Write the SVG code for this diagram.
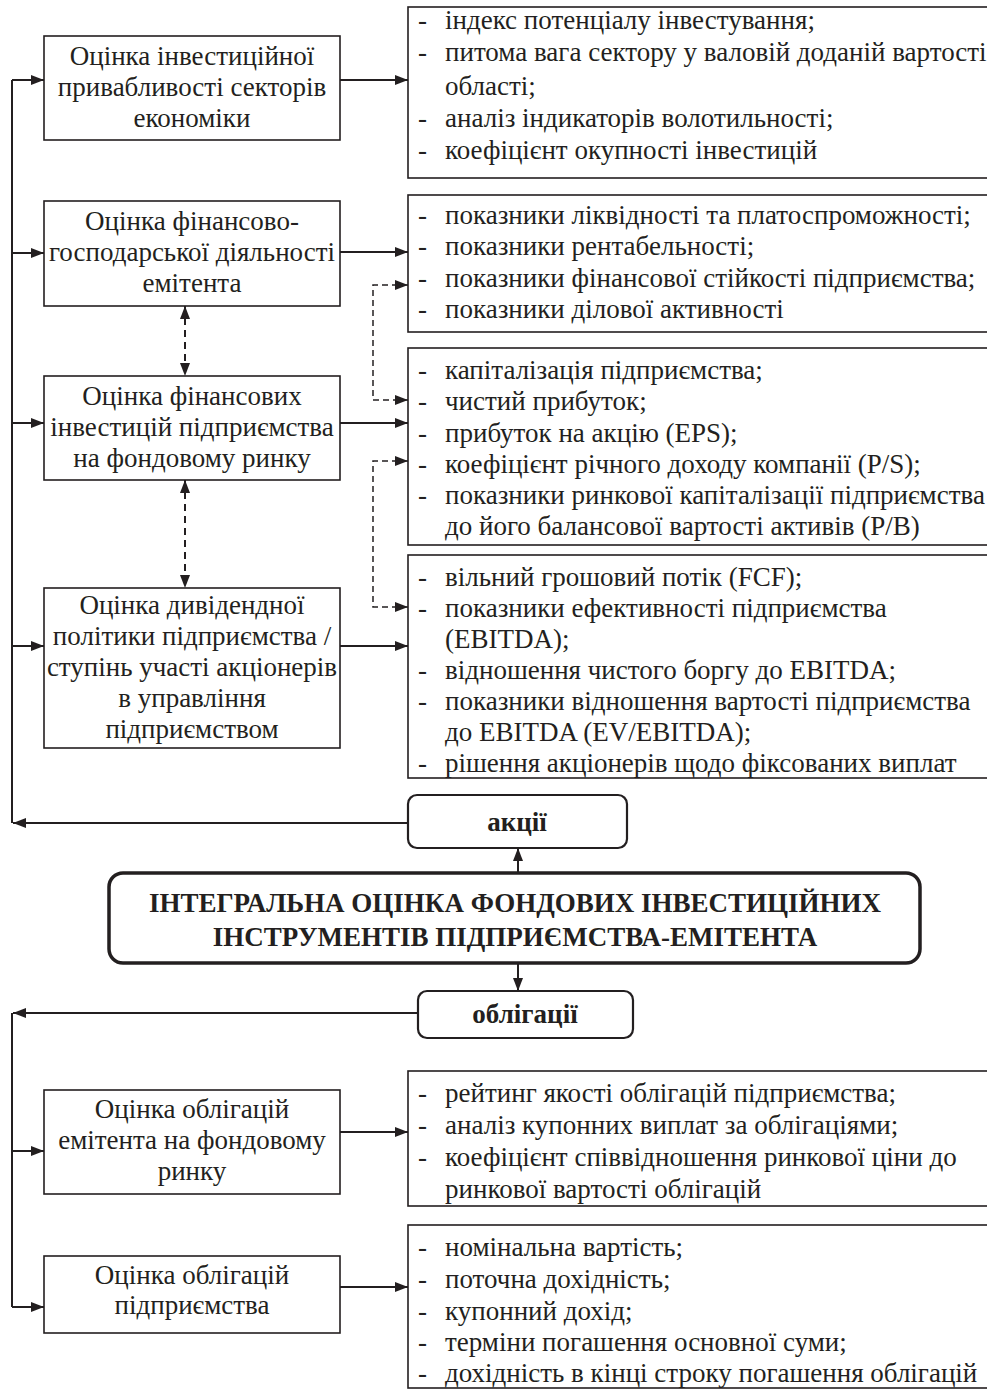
<svg xmlns="http://www.w3.org/2000/svg" width="987" height="1390" viewBox="0 0 987 1390">
<style>
.bx{fill:#fff;stroke:#231f20;stroke-width:1.6}
.rb{fill:#fff;stroke:#231f20;stroke-width:2.2}
.cb{fill:#fff;stroke:#231f20;stroke-width:3.5}
.t{font-family:"Liberation Serif","Times New Roman",serif;font-size:27px;fill:#231f20}
.c{text-anchor:middle}
.b{font-weight:bold}
.ln{fill:none;stroke:#231f20;stroke-width:2}
.ds{fill:none;stroke:#231f20;stroke-width:2;stroke-dasharray:7 5}
.dt{fill:none;stroke:#231f20;stroke-width:1.5;stroke-dasharray:6 4}
</style>
<defs>
<marker id="a" markerUnits="userSpaceOnUse" markerWidth="14" markerHeight="12" refX="13" refY="5" orient="auto-start-reverse">
<path d="M0,0 L13,5 L0,10 z" fill="#231f20"/>
</marker>
</defs>
<rect width="987" height="1390" fill="#fff"/>

<g id="connectors">
<path class="ln" d="M408,823 H13" marker-end="url(#a)"/>
<path class="ln" d="M12,823 V80"/>
<path class="ln" d="M12,80 H44" marker-end="url(#a)"/>
<path class="ln" d="M12,253 H44" marker-end="url(#a)"/>
<path class="ln" d="M12,423 H44" marker-end="url(#a)"/>
<path class="ln" d="M12,646 H44" marker-end="url(#a)"/>
<path class="ln" d="M340,80 H408" marker-end="url(#a)"/>
<path class="ln" d="M340,252 H408" marker-end="url(#a)"/>
<path class="ln" d="M340,423 H408" marker-end="url(#a)"/>
<path class="ln" d="M340,646 H408" marker-end="url(#a)"/>
<path class="ds" d="M185,306 V376" marker-start="url(#a)" marker-end="url(#a)"/>
<path class="ds" d="M185,480 V588" marker-start="url(#a)" marker-end="url(#a)"/>
<path class="dt" d="M408,285 H373 V400 H408" marker-start="url(#a)" marker-end="url(#a)"/>
<path class="dt" d="M408,461 H373 V607 H408" marker-start="url(#a)" marker-end="url(#a)"/>
<path class="ln" d="M518,873 V848" marker-end="url(#a)"/>
<path class="ln" d="M518,963 V991" marker-end="url(#a)"/>
<path class="ln" d="M418,1013 H13" marker-end="url(#a)"/>
<path class="ln" d="M12,1013 V1307"/>
<path class="ln" d="M12,1151 H44" marker-end="url(#a)"/>
<path class="ln" d="M12,1307 H44" marker-end="url(#a)"/>
<path class="ln" d="M340,1132 H408" marker-end="url(#a)"/>
<path class="ln" d="M340,1287 H408" marker-end="url(#a)"/>
</g>

<g id="n-sectors">
<rect class="bx" x="44" y="36" width="296" height="104"/>
<text class="t c" x="192" y="65">Оцінка інвестиційної</text>
<text class="t c" x="192" y="96">привабливості секторів</text>
<text class="t c" x="192" y="127">економіки</text>
</g>
<g id="n-fin">
<rect class="bx" x="44" y="201" width="296" height="105"/>
<text class="t c" x="192" y="230">Оцінка фінансово-</text>
<text class="t c" x="192" y="261">господарської діяльності</text>
<text class="t c" x="192" y="292">емітента</text>
</g>
<g id="n-invest">
<rect class="bx" x="44" y="376" width="296" height="104"/>
<text class="t c" x="192" y="405">Оцінка фінансових</text>
<text class="t c" x="192" y="436">інвестицій підприємства</text>
<text class="t c" x="192" y="467">на фондовому ринку</text>
</g>
<g id="n-div">
<rect class="bx" x="44" y="588" width="296" height="160"/>
<text class="t c" x="192" y="614">Оцінка дивідендної</text>
<text class="t c" x="192" y="645">політики підприємства /</text>
<text class="t c" x="192" y="676">ступінь участі акціонерів</text>
<text class="t c" x="192" y="707">в управління</text>
<text class="t c" x="192" y="738">підприємством</text>
</g>

<g id="r-sectors">
<rect class="bx" x="408" y="7" width="600" height="171"/>
<text class="t" x="418" y="29">-</text><text class="t" x="445" y="29">індекс потенціалу інвестування;</text>
<text class="t" x="418" y="61">-</text><text class="t" x="445" y="61">питома вага сектору у валовій доданій вартості</text>
<text class="t" x="445" y="95">області;</text>
<text class="t" x="418" y="127">-</text><text class="t" x="445" y="127">аналіз індикаторів волотильності;</text>
<text class="t" x="418" y="159">-</text><text class="t" x="445" y="159">коефіцієнт окупності інвестицій</text>
</g>
<g id="r-fin">
<rect class="bx" x="408" y="195" width="600" height="137"/>
<text class="t" x="418" y="224">-</text><text class="t" x="445" y="224">показники ліквідності та платоспроможності;</text>
<text class="t" x="418" y="255">-</text><text class="t" x="445" y="255">показники рентабельності;</text>
<text class="t" x="418" y="287">-</text><text class="t" x="445" y="287">показники фінансової стійкості підприємства;</text>
<text class="t" x="418" y="318">-</text><text class="t" x="445" y="318">показники ділової активності</text>
</g>
<g id="r-invest">
<rect class="bx" x="408" y="348" width="600" height="197"/>
<text class="t" x="418" y="379">-</text><text class="t" x="445" y="379">капіталізація підприємства;</text>
<text class="t" x="418" y="410">-</text><text class="t" x="445" y="410">чистий прибуток;</text>
<text class="t" x="418" y="442">-</text><text class="t" x="445" y="442">прибуток на акцію (EPS);</text>
<text class="t" x="418" y="473">-</text><text class="t" x="445" y="473">коефіцієнт річного доходу компанії (P/S);</text>
<text class="t" x="418" y="504">-</text><text class="t" x="445" y="504">показники ринкової капіталізації підприємства</text>
<text class="t" x="445" y="535">до його балансової вартості активів (P/B)</text>
</g>
<g id="r-div">
<rect class="bx" x="408" y="555" width="600" height="223"/>
<text class="t" x="418" y="586">-</text><text class="t" x="445" y="586">вільний грошовий потік (FCF);</text>
<text class="t" x="418" y="617">-</text><text class="t" x="445" y="617">показники ефективності підприємства</text>
<text class="t" x="445" y="648">(EBITDA);</text>
<text class="t" x="418" y="679">-</text><text class="t" x="445" y="679">відношення чистого боргу до EBITDA;</text>
<text class="t" x="418" y="710">-</text><text class="t" x="445" y="710">показники відношення вартості підприємства</text>
<text class="t" x="445" y="741">до EBITDA (EV/EBITDA);</text>
<text class="t" x="418" y="772">-</text><text class="t" x="445" y="772">рішення акціонерів щодо фіксованих виплат</text>
</g>

<g id="n-shares">
<rect class="rb" x="408" y="795" width="219" height="53" rx="9"/>
<text class="t c b" x="517" y="831" style="font-size:27px">акції</text>
</g>
<g id="n-main">
<rect class="cb" x="109" y="873" width="811" height="90" rx="14"/>
<text class="t c b" x="515" y="912" style="font-size:27px">ІНТЕГРАЛЬНА ОЦІНКА ФОНДОВИХ ІНВЕСТИЦІЙНИХ</text>
<text class="t c b" x="515" y="946" style="font-size:27px">ІНСТРУМЕНТІВ ПІДПРИЄМСТВА-ЕМІТЕНТА</text>
</g>
<g id="n-bonds">
<rect class="rb" x="418" y="991" width="215" height="47" rx="9"/>
<text class="t c b" x="525" y="1023" style="font-size:27px">облігації</text>
</g>

<g id="n-bonds-market">
<rect class="bx" x="44" y="1090" width="296" height="104"/>
<text class="t c" x="192" y="1118">Оцінка облігацій</text>
<text class="t c" x="192" y="1149">емітента на фондовому</text>
<text class="t c" x="192" y="1180">ринку</text>
</g>
<g id="n-bonds-ent">
<rect class="bx" x="44" y="1256" width="296" height="77"/>
<text class="t c" x="192" y="1284">Оцінка облігацій</text>
<text class="t c" x="192" y="1314">підприємства</text>
</g>

<g id="r-bonds-market">
<rect class="bx" x="408" y="1071" width="600" height="135"/>
<text class="t" x="418" y="1102">-</text><text class="t" x="445" y="1102">рейтинг якості облігацій підприємства;</text>
<text class="t" x="418" y="1134">-</text><text class="t" x="445" y="1134">аналіз купонних виплат за облігаціями;</text>
<text class="t" x="418" y="1166">-</text><text class="t" x="445" y="1166">коефіцієнт співвідношення ринкової ціни до</text>
<text class="t" x="445" y="1198">ринкової вартості облігацій</text>
</g>
<g id="r-bonds-ent">
<rect class="bx" x="408" y="1225" width="600" height="163"/>
<text class="t" x="418" y="1256">-</text><text class="t" x="445" y="1256">номінальна вартість;</text>
<text class="t" x="418" y="1288">-</text><text class="t" x="445" y="1288">поточна дохідність;</text>
<text class="t" x="418" y="1320">-</text><text class="t" x="445" y="1320">купонний дохід;</text>
<text class="t" x="418" y="1351">-</text><text class="t" x="445" y="1351">терміни погашення основної суми;</text>
<text class="t" x="418" y="1382">-</text><text class="t" x="445" y="1382">дохідність в кінці строку погашення облігацій</text>
</g>
</svg>
